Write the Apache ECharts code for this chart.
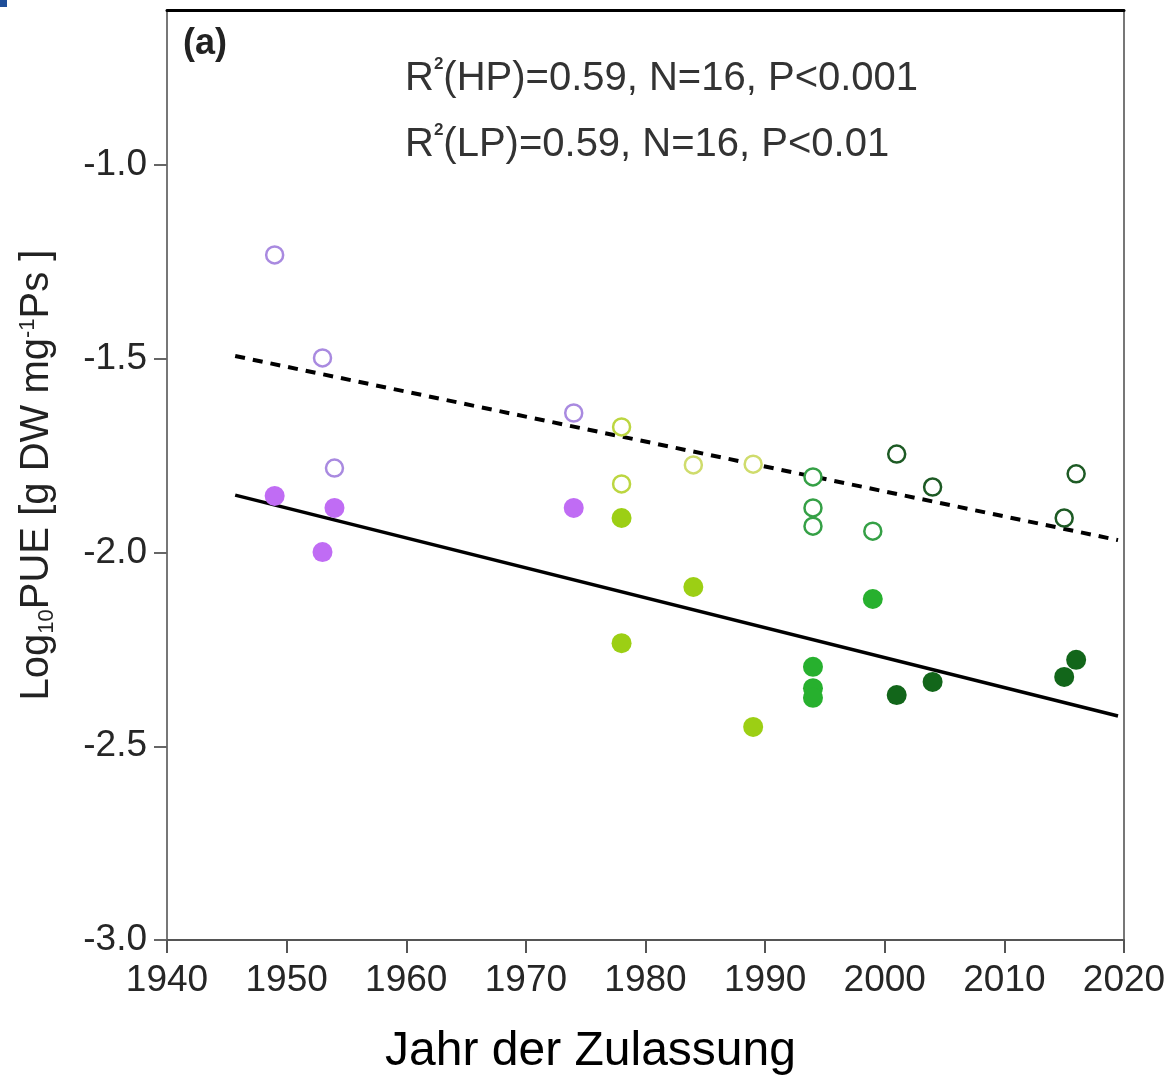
<!DOCTYPE html>
<html>
<head>
<meta charset="utf-8">
<script src="https://cdn.jsdelivr.net/npm/echarts@6/dist/echarts.min.js"></script>
<style>html,body{margin:0;padding:0;background:#fff;}#c{width:1173px;height:1077px;}</style>
</head>
<body>
<div id="c"></div>
<script>
// ---- data ----
const hpYears = [1949, 1953, 1954, 1974, 1978, 1978, 1984, 1989, 1994, 1994, 1994, 1999, 2001, 2004, 2015, 2016];
const hpValues = [-1.232, -1.498, -1.782, -1.640, -1.676, -1.823, -1.774, -1.772, -1.805, -1.885, -1.932, -1.945, -1.746, -1.831, -1.911, -1.797];
const lpYears = [1949, 1953, 1954, 1974, 1978, 1978, 1984, 1989, 1994, 1994, 1994, 1999, 2001, 2004, 2015, 2016];
const lpValues = [-1.854, -1.999, -1.885, -1.885, -1.911, -2.234, -2.089, -2.450, -2.295, -2.350, -2.375, -2.120, -2.368, -2.334, -2.321, -2.277];
const hpFitYears = [1945.7, 2019.5];
const hpFitValues = [-1.493, -1.968];
const lpFitYears = [1945.7, 2019.5];
const lpFitValues = [-1.852, -2.422];
const xTicks = [1940, 1950, 1960, 1970, 1980, 1990, 2000, 2010, 2020];
const yTicks = [-3.0, -2.5, -2.0, -1.5, -1.0];
const annotationHP = ['R', '2', '(HP)=0.59, N=16, P<0.001'];
const annotationLP = ['R', '2', '(LP)=0.59, N=16, P<0.01'];
const panelLabel = '(a)';
const xName = 'Jahr der Zulassung';

// ---- styling helpers ----
function filledColor(y) {
  if (y < 1976) return '#c06cf4';
  if (y < 1992) return '#9ccf14';
  if (y < 2000) return '#27b02e';
  return '#12661a';
}
function openColor(y) {
  if (y < 1976) return '#a98ae0';
  if (y < 1981) return '#bcd640';
  if (y < 1992) return '#cfdc6c';
  if (y < 2000) return '#35a046';
  return '#1d5a24';
}

const chart = echarts.init(document.getElementById('c'), null, {renderer: 'canvas'});
const FONT = '"Liberation Sans", Arial, sans-serif';

const option = {
  animation: false,
  backgroundColor: '#ffffff',
  grid: {left: 167, right: 49, top: 10, bottom: 137, containLabel: false, outerBoundsMode: 'none'},
  xAxis: [{
    type: 'value', min: 1940, max: 2020, interval: 10,
    axisLine: {show: true, onZero: false, lineStyle: {color: '#555', width: 2}},
    axisTick: {show: true, length: 13, lineStyle: {color: '#555', width: 2}, customValues: xTicks},
    axisLabel: {customValues: xTicks, color: '#262626', fontSize: 37, fontFamily: FONT, margin: 22,
      formatter: v => String(v)},
    splitLine: {show: false},
    name: xName, nameLocation: 'middle', nameGap: 88,
    nameTextStyle: {color: '#000', fontSize: 48, fontFamily: FONT, padding: [0, 0, 0, -110]}
  }, {
    type: 'value', position: 'top', min: 1940, max: 2020,
    axisLine: {show: true, lineStyle: {color: '#000', width: 3}},
    axisTick: {show: false}, axisLabel: {show: false}, splitLine: {show: false}
  }],
  yAxis: [{
    type: 'value', min: -3.0, max: -0.6,
    axisLine: {show: true, onZero: false, lineStyle: {color: '#777', width: 2}},
    axisTick: {show: true, length: 13, lineStyle: {color: '#666', width: 2}, customValues: yTicks},
    axisLabel: {customValues: yTicks, color: '#262626', fontSize: 37, fontFamily: FONT, margin: 20,
      formatter: v => v.toFixed(1)},
    splitLine: {show: false},
    name: '{a|Log}{s|10}{a|PUE [g DW mg}{p|-1}{a|Ps ]}',
    nameLocation: 'middle', nameGap: 104, nameRotate: 90,
    nameTextStyle: {
      color: '#222', fontFamily: FONT, fontSize: 40,
      rich: {
        a: {fontSize: 40, fontFamily: FONT, color: '#222', lineHeight: 52},
        s: {fontSize: 22, fontFamily: FONT, color: '#222', padding: [19, 0, 0, 0], lineHeight: 52},
        p: {fontSize: 22, fontFamily: FONT, color: '#222', padding: [0, 0, 19, 0], lineHeight: 52}
      }
    }
  }, {
    type: 'value', position: 'right', min: -3.0, max: -0.6,
    axisLine: {show: true, lineStyle: {color: '#777', width: 2}},
    axisTick: {show: false}, axisLabel: {show: false}, splitLine: {show: false}
  }],
  series: [
    {
      name: 'HP fit', type: 'line', symbol: 'none', z: 2,
      data: hpFitYears.map((x, i) => [x, hpFitValues[i]]),
      lineStyle: {color: '#000', width: 4, type: [10, 8]}
    },
    {
      name: 'LP fit', type: 'line', symbol: 'none', z: 2,
      data: lpFitYears.map((x, i) => [x, lpFitValues[i]]),
      lineStyle: {color: '#000', width: 3.5, type: 'solid'}
    },
    {
      name: 'HP', type: 'scatter', symbol: 'circle', symbolSize: 17, z: 3,
      data: hpYears.map((x, i) => ({
        value: [x, hpValues[i]],
        itemStyle: {color: '#ffffff', opacity: 1, borderWidth: 2.5, borderColor: openColor(x)}
      }))
    },
    {
      name: 'LP', type: 'scatter', symbol: 'circle', symbolSize: 20, z: 3,
      data: lpYears.map((x, i) => ({
        value: [x, lpValues[i]],
        itemStyle: {color: filledColor(x), opacity: 1}
      }))
    }
  ],
  graphic: [
    {type: 'rect', left: 0, top: 0, shape: {width: 7, height: 7}, style: {fill: '#1f4e99'}},
    {type: 'text', left: 183, top: 26, style: {text: panelLabel, font: 'bold 36px ' + FONT, fill: '#222'}},
    {type: 'text', left: 405, top: 56, style: {
      text: '{r|' + annotationHP[0] + '}{p|' + annotationHP[1] + '}{r|' + annotationHP[2] + '}',
      rich: {
        r: {font: '40px ' + FONT, fill: '#333', lineHeight: 48},
        p: {font: 'bold 17px ' + FONT, fill: '#333', padding: [0, 0, 28, 0], lineHeight: 48}
      }
    }},
    {type: 'text', left: 405, top: 122, style: {
      text: '{r|' + annotationLP[0] + '}{p|' + annotationLP[1] + '}{r|' + annotationLP[2] + '}',
      rich: {
        r: {font: '40px ' + FONT, fill: '#333', lineHeight: 48},
        p: {font: 'bold 17px ' + FONT, fill: '#333', padding: [0, 0, 28, 0], lineHeight: 48}
      }
    }}
  ]
};
chart.setOption(option);
</script>
</body>
</html>
